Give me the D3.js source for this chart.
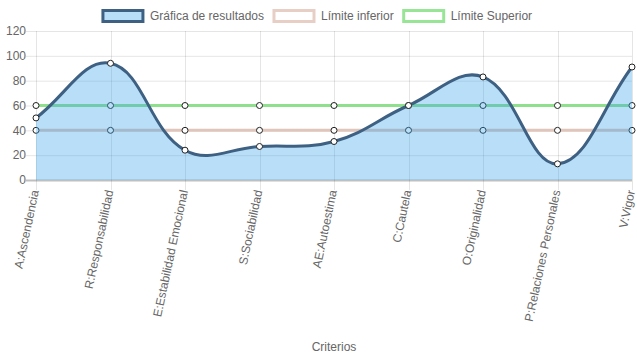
<!DOCTYPE html>
<html>
<head>
<meta charset="utf-8">
<script src="https://cdn.jsdelivr.net/npm/d3@7"></script>
<style>
  body { margin: 0; background: #fff; }
  text { font-family: "Liberation Sans", Arial, Helvetica, sans-serif; fill: #666; }
</style>
</head>
<body>
<div id="chart"></div>
<script>
'use strict';

// data
var categories = ["A:Ascendencia", "R:Responsabilidad", "E:Estabilidad Emocional", "S:Sociabilidad",
    "AE:Autoestima", "C:Cautela", "O:Originalidad", "P:Relaciones Personales", "V:Vigor"];
var resultados = [50, 94, 24, 27, 31, 60, 83, 13, 91];
var limiteInferior = [40, 40, 40, 40, 40, 40, 40, 40, 40];
var limiteSuperior = [60, 60, 60, 60, 60, 60, 60, 60, 60];
var yTicks = [0, 20, 40, 60, 80, 100, 120];
var legendLabels = ["Gráfica de resultados", "Límite inferior", "Límite Superior"];

var width = 637, height = 359,
    margin = {top: 31, right: 5, bottom: 179, left: 36};

var svg = d3.select("#chart").append("svg")
    .attr("width", width)
    .attr("height", height);

var x = d3.scalePoint()
    .domain(categories)
    .range([margin.left, width - margin.right]);

var y = d3.scaleLinear()
    .domain([0, 120])
    .range([height - margin.bottom, margin.top]);

// grid
var grid = svg.append("g");
grid.selectAll("line.h").data(yTicks).enter().append("line")
    .attr("x1", margin.left - 10).attr("x2", width - margin.right)
    .attr("y1", function (d) { return y(d) + 0.5; })
    .attr("y2", function (d) { return y(d) + 0.5; })
    .attr("stroke", function (d) { return d === 0 ? "rgba(0,0,0,0.25)" : "rgba(0,0,0,0.1)"; })
    .attr("stroke-width", function (d) { return d === 0 ? 2 : 1; });

grid.selectAll("line.v").data(categories).enter().append("line")
    .attr("x1", function (d) { return Math.round(x(d)) + 0.5; })
    .attr("x2", function (d) { return Math.round(x(d)) + 0.5; })
    .attr("y1", margin.top)
    .attr("y2", y(0) + 10)
    .attr("stroke", "rgba(0,0,0,0.1)");

// y labels
svg.append("g").selectAll("text").data(yTicks).enter().append("text")
    .attr("x", margin.left - 10)
    .attr("y", function (d) { return y(d); })
    .attr("dy", "0.35em")
    .attr("text-anchor", "end")
    .style("font-size", "12px")
    .text(function (d) { return d; });

// x labels, rotated
svg.append("g").selectAll("text").data(categories).enter().append("text")
    .attr("transform", function (d) {
        return "translate(" + (x(d) + 3) + "," + (y(0) + 11) + ") rotate(-78)";
    })
    .attr("text-anchor", "end")
    .style("font-size", "12px")
    .text(function (d) { return d; });

svg.append("text")
    .attr("x", (margin.left + width - margin.right) / 2)
    .attr("y", 351)
    .attr("text-anchor", "middle")
    .style("font-size", "12px")
    .text("Criterios");

// Chart.js style spline (tension 0.4)
function splinePath(pts, tension, close) {
    var p = d3.path();
    var cps = pts.map(function (cur, i) {
        var prev = pts[i - 1] || cur, next = pts[i + 1] || cur;
        var d01 = Math.hypot(cur[0] - prev[0], cur[1] - prev[1]);
        var d12 = Math.hypot(next[0] - cur[0], next[1] - cur[1]);
        var s01 = d01 / (d01 + d12) || 0, s12 = d12 / (d01 + d12) || 0;
        var fa = tension * s01, fb = tension * s12;
        return {
            prev: [cur[0] - fa * (next[0] - prev[0]), cur[1] - fa * (next[1] - prev[1])],
            next: [cur[0] + fb * (next[0] - prev[0]), cur[1] + fb * (next[1] - prev[1])]
        };
    });
    p.moveTo(pts[0][0], pts[0][1]);
    for (var i = 1; i < pts.length; i++) {
        var a = cps[i - 1].next, b = cps[i].prev;
        p.bezierCurveTo(a[0], a[1], b[0], b[1], pts[i][0], pts[i][1]);
    }
    if (close) {
        p.lineTo(pts[pts.length - 1][0], y(0));
        p.lineTo(pts[0][0], y(0));
        p.closePath();
    }
    return p.toString();
}

function drawSeries(values, color, fill) {
    var pts = values.map(function (v, i) { return [x(categories[i]), y(v)]; });
    var g = svg.append("g");
    if (fill) {
        g.append("path").attr("d", splinePath(pts, 0.4, true))
            .attr("fill", fill).attr("stroke", "none");
    }
    g.append("path").attr("d", splinePath(pts, 0.4, false))
        .attr("fill", "none").attr("stroke", color).attr("stroke-width", 3);
    g.selectAll("circle").data(pts).enter().append("circle")
        .attr("cx", function (d) { return d[0]; })
        .attr("cy", function (d) { return d[1]; })
        .attr("r", 3)
        .attr("fill", "#fff")
        .attr("stroke", "#222")
        .attr("stroke-width", 1);
    return g;
}

drawSeries(limiteSuperior, "#8fe08c", null);
drawSeries(limiteInferior, "#dfc5ba", null);
// the results fill sits on top of the limit lines
drawSeries(resultados, "#3e6082", "rgba(54,162,235,0.35)");

// legend
var legendColors = [
    {stroke: "#3e6082", fill: "#b9def8"},
    {stroke: "#e7cfc6", fill: "#fff"},
    {stroke: "#98e695", fill: "#fff"}
];
var legend = svg.append("g");
var items = legend.selectAll("g").data(legendLabels).enter().append("g");
items.append("rect")
    .attr("width", 40).attr("height", 11)
    .attr("x", 0).attr("y", -5.5)
    .attr("fill", function (d, i) { return legendColors[i].fill; })
    .attr("stroke", function (d, i) { return legendColors[i].stroke; })
    .attr("stroke-width", 3);
items.append("text")
    .attr("x", 47).attr("dy", "0.35em")
    .style("font-size", "12px")
    .text(function (d) { return d; });

var widths = [];
items.each(function () {
    widths.push(47 + d3.select(this).select("text").node().getComputedTextLength());
});
var total = d3.sum(widths) + 10 * (widths.length - 1);
var cx = (width - total) / 2 - 1;
items.attr("transform", function (d, i) {
    var tx = cx;
    cx += widths[i] + 10;
    return "translate(" + tx + ",16)";
});
</script>
</body>
</html>
